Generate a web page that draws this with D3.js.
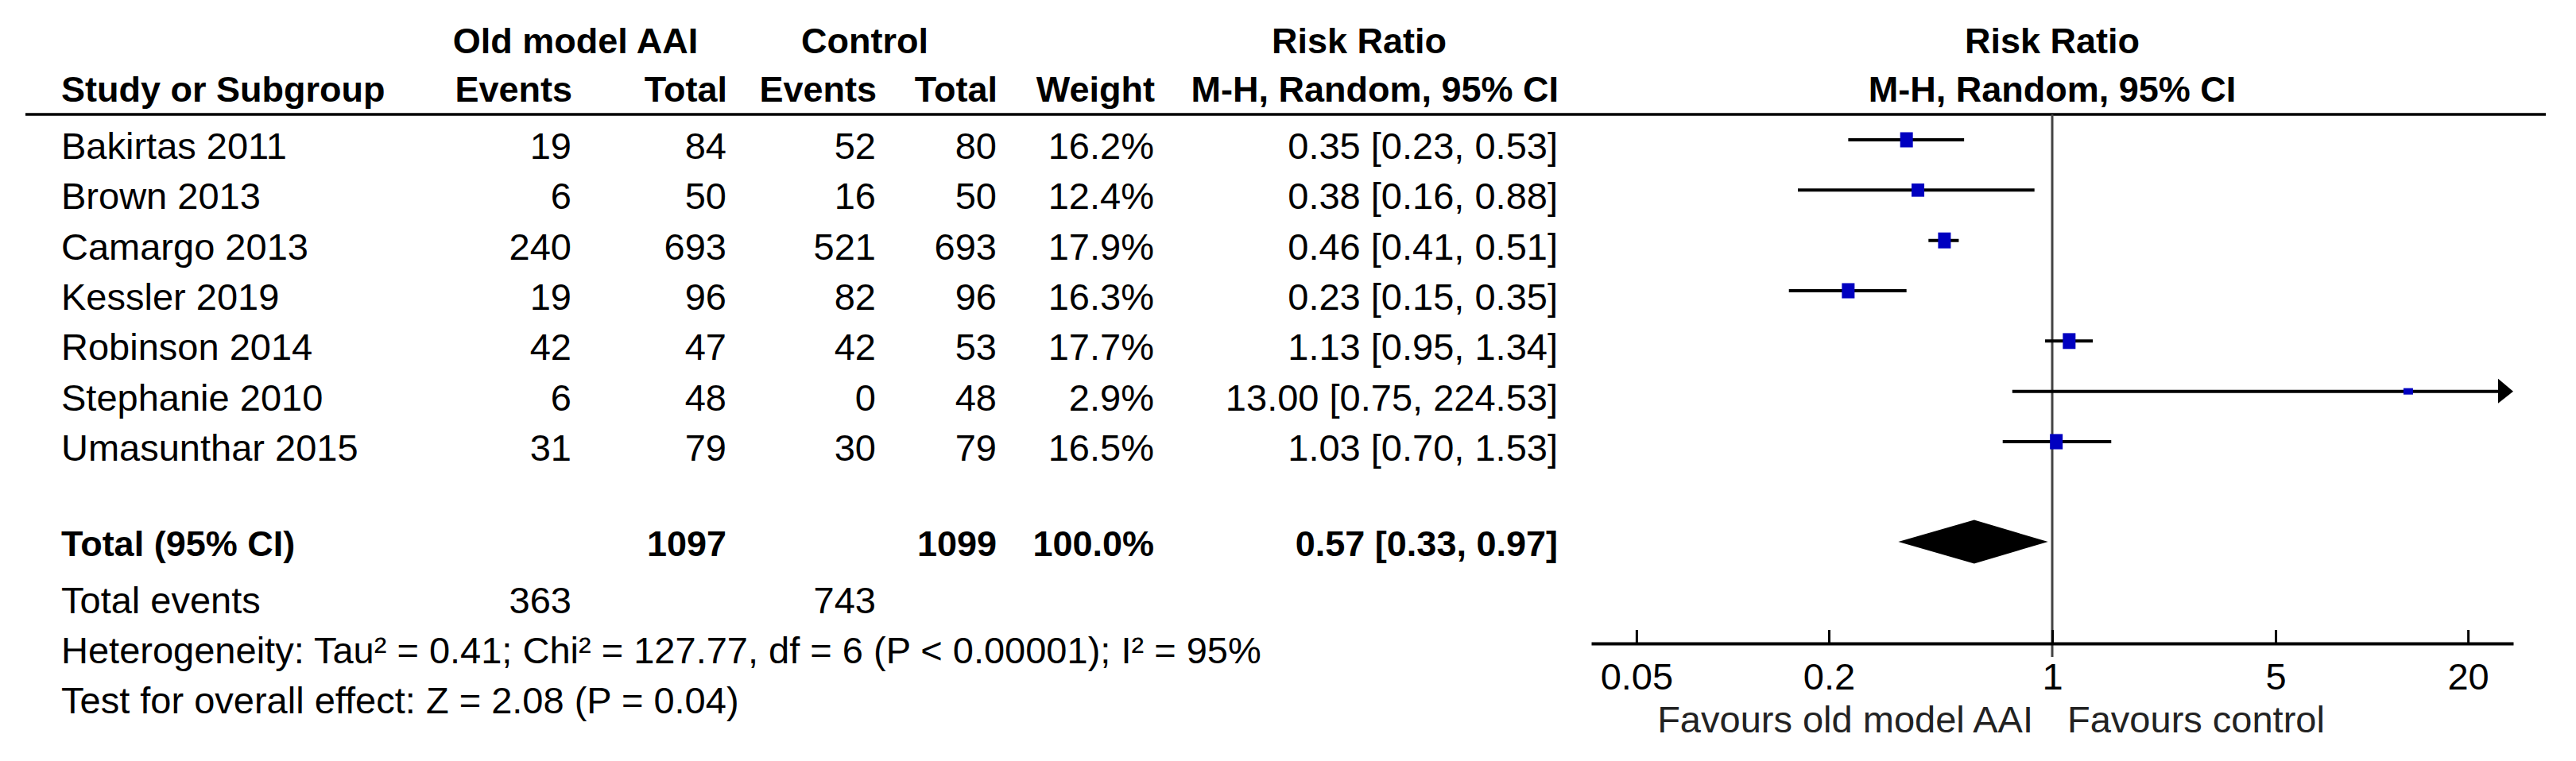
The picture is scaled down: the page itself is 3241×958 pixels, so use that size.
<!DOCTYPE html>
<html>
<head>
<meta charset="utf-8">
<script src="https://cdn.jsdelivr.net/npm/d3@7.9.0/dist/d3.min.js"></script>
<style>
  body { margin: 0; background: #fff; }
  svg text { font-family: "Liberation Sans", Arial, sans-serif; fill: #000; }
  .b { font-weight: bold; font-size: 45px; }
  .r { font-size: 47px; }
</style>
</head>
<body>
<svg id="chart" width="3241" height="958"></svg>
<script>
const studies = ['Bakirtas 2011', 'Brown 2013', 'Camargo 2013', 'Kessler 2019', 'Robinson 2014', 'Stephanie 2010', 'Umasunthar 2015'];
const oldEvents = [19, 6, 240, 19, 42, 6, 31];
const oldTotal = [84, 50, 693, 96, 47, 48, 79];
const ctlEvents = [52, 16, 521, 82, 42, 0, 30];
const ctlTotal = [80, 50, 693, 96, 53, 48, 79];
const weights = [16.2, 12.4, 17.9, 16.3, 17.7, 2.9, 16.5];
const rr = [0.35, 0.38, 0.46, 0.23, 1.13, 13.00, 1.03];
const ciLow = [0.23, 0.16, 0.41, 0.15, 0.95, 0.75, 0.70];
const ciHigh = [0.53, 0.88, 0.51, 0.35, 1.34, 224.53, 1.53];

const totalRR = [0.57, 0.33, 0.97]; // estimate, low, high
const totalN = [1097, 1099];
const totalEvents = [363, 743];
const tickValues = [0.05, 0.2, 1, 5, 20];

const svg = d3.select('#chart');

// table columns (right edges) and row positions
const colX = [719, 914, 1102, 1254, 1452, 1960];
const y = d3.scalePoint().domain(studies).range([176, 556]);
const textOff = 24;

// plot scale: log, symmetric around 1
const x = d3.scaleLog().domain([1 / 27.7, 27.7]).range([2002, 3162]);

// headers
const hdr = svg.append('g');
hdr.append('text').attr('class', 'b').attr('x', 724).attr('y', 67).attr('text-anchor', 'middle').text('Old model AAI');
hdr.append('text').attr('class', 'b').attr('x', 1088).attr('y', 67).attr('text-anchor', 'middle').text('Control');
hdr.append('text').attr('class', 'b').attr('x', 1710).attr('y', 67).attr('text-anchor', 'middle').text('Risk Ratio');
hdr.append('text').attr('class', 'b').attr('x', x(1)).attr('y', 67).attr('text-anchor', 'middle').text('Risk Ratio');
hdr.append('text').attr('class', 'b').attr('x', 77).attr('y', 128).text('Study or Subgroup');
['Events', 'Total', 'Events', 'Total', 'Weight', 'M-H, Random, 95% CI'].forEach((t, i) => {
    hdr.append('text').attr('class', 'b').attr('x', colX[i] + 1).attr('y', 128).attr('text-anchor', 'end').text(t);
});
hdr.append('text').attr('class', 'b').attr('x', x(1)).attr('y', 128).attr('text-anchor', 'middle').text('M-H, Random, 95% CI');

svg.append('line').attr('x1', 32).attr('x2', 3203).attr('y1', 144).attr('y2', 144)
    .attr('stroke', '#000').attr('stroke-width', 3.5);

// study rows
const fmt2 = d3.format('.2f');
studies.forEach((s, i) => {
    const ty = y(s) + textOff;
    const cells = [oldEvents[i], oldTotal[i], ctlEvents[i], ctlTotal[i], `${weights[i].toFixed(1)}%`,
        `${fmt2(rr[i])} [${fmt2(ciLow[i])}, ${fmt2(ciHigh[i])}]`];
    svg.append('text').attr('class', 'r').attr('x', 77).attr('y', ty).text(s);
    cells.forEach((c, j) => {
        svg.append('text').attr('class', 'r').attr('x', colX[j]).attr('y', ty).attr('text-anchor', 'end').text(c);
    });
});

// total row
const totY = 700;
svg.append('text').attr('class', 'b').attr('x', 77).attr('y', totY).text('Total (95% CI)');
svg.append('text').attr('class', 'b').attr('x', colX[1]).attr('y', totY).attr('text-anchor', 'end').text(totalN[0]);
svg.append('text').attr('class', 'b').attr('x', colX[3]).attr('y', totY).attr('text-anchor', 'end').text(totalN[1]);
svg.append('text').attr('class', 'b').attr('x', colX[4]).attr('y', totY).attr('text-anchor', 'end').text('100.0%');
svg.append('text').attr('class', 'b').attr('x', colX[5]).attr('y', totY).attr('text-anchor', 'end')
    .text(`${fmt2(totalRR[0])} [${fmt2(totalRR[1])}, ${fmt2(totalRR[2])}]`);

svg.append('text').attr('class', 'r').attr('x', 77).attr('y', 772).text('Total events');
svg.append('text').attr('class', 'r').attr('x', colX[0]).attr('y', 772).attr('text-anchor', 'end').text(totalEvents[0]);
svg.append('text').attr('class', 'r').attr('x', colX[2]).attr('y', 772).attr('text-anchor', 'end').text(totalEvents[1]);
svg.append('text').attr('class', 'r').attr('x', 77).attr('y', 835)
    .text('Heterogeneity: Tau\u00b2 = 0.41; Chi\u00b2 = 127.77, df = 6 (P < 0.00001); I\u00b2 = 95%');
svg.append('text').attr('class', 'r').attr('x', 77).attr('y', 898)
    .text('Test for overall effect: Z = 2.08 (P = 0.04)');

// reference line at 1
const axisY = 810;
svg.append('line').attr('x1', x(1)).attr('x2', x(1)).attr('y1', 144).attr('y2', 827)
    .attr('stroke', '#444').attr('stroke-width', 3);

// CIs and squares
const [xmin, xmax] = x.range();
const hScale = d3.scaleSqrt().domain([0, 17.9]).range([0, 20]);
const wScale = d3.scaleLinear().domain([2.9, 12.4]).range([12, 16]).clamp(true);
studies.forEach((s, i) => {
    const cy = y(s);
    const x1 = Math.max(xmin, x(ciLow[i]));
    const x2 = Math.min(xmax, x(ciHigh[i]));
    const clipped = x(ciHigh[i]) > xmax;
    svg.append('line').attr('x1', x1).attr('x2', clipped ? x2 - 12 : x2).attr('y1', cy).attr('y2', cy)
        .attr('stroke', '#000').attr('stroke-width', 4);
    if (clipped) {
        svg.append('path')
            .attr('d', `M${x2 - 19},${cy - 16}L${x2},${cy}L${x2 - 19},${cy + 15}Z`)
            .attr('fill', '#000');
    }
    const h = hScale(weights[i]);
    const w = wScale(weights[i]);
    svg.append('rect').attr('x', x(rr[i]) - w / 2).attr('y', cy - h / 2)
        .attr('width', w).attr('height', h).attr('fill', '#0000c0');
});

// pooled diamond
const dy = 682, dh = 27.5;
svg.append('path')
    .attr('d', `M${x(totalRR[1])},${dy}L${x(totalRR[0])},${dy - dh}L${x(totalRR[2])},${dy}L${x(totalRR[0])},${dy + dh}Z`)
    .attr('fill', '#000');

// axis
const axis = d3.axisBottom(x).tickValues(tickValues).tickFormat(d3.format('')).tickSizeInner(-17).tickSizeOuter(0).tickPadding(25);
const gAxis = svg.append('g').attr('transform', `translate(0,${axisY})`).call(axis);
gAxis.select('.domain').attr('stroke', '#000').attr('stroke-width', 4);
gAxis.selectAll('.tick line').attr('stroke', '#000').attr('stroke-width', 3);
gAxis.selectAll('.tick text').attr('font-size', 47).attr('font-family', '"Liberation Sans", Arial, sans-serif').attr('fill', '#000');

svg.append('text').attr('class', 'r').attr('x', x(1) - 24).attr('y', 922).attr('text-anchor', 'end')
    .style('fill', '#222').text('Favours old model AAI');
svg.append('text').attr('class', 'r').attr('x', x(1) + 19).attr('y', 922)
    .style('fill', '#222').text('Favours control');
</script>
</body>
</html>
